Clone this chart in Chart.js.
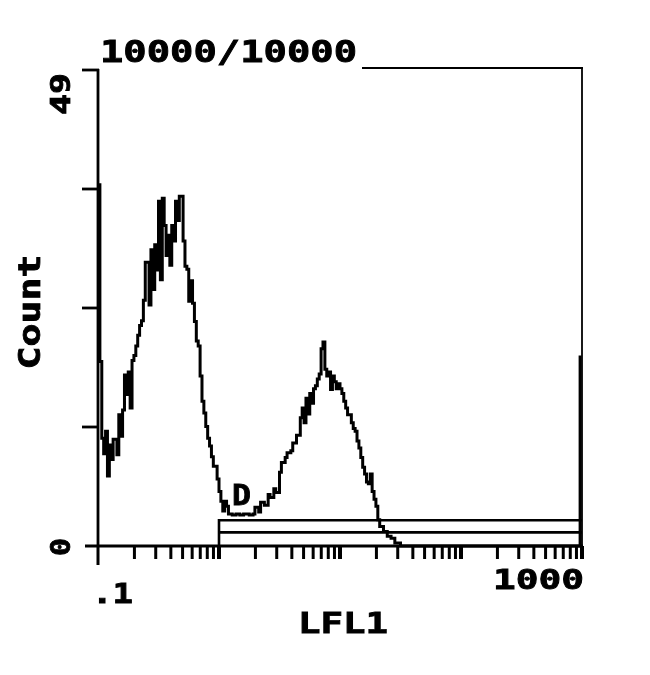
<!DOCTYPE html>
<html><head><meta charset="utf-8">
<script src="https://cdn.jsdelivr.net/npm/chart.js@4/dist/chart.umd.min.js"></script>
<style>html,body{margin:0;padding:0;background:#fff}#wrap{width:650px;height:675px;position:relative}</style>
</head><body><div id="wrap"><canvas id="c"></canvas></div>
<script>
// ---- data (histogram channels, 64 channels per decade, 0.1 .. 1000) ----
const channels = [0,1,2,3,4,5,6,7,8,10,11,12,13,14,15,16,17,18,19,20,21,22,23,24,25,27,28,29,30,31,32,33,34,35,36,37,38,39,40,41,42,43,45,46,47,48,49,50,51,52,53,54,55,56,57,58,59,60,61,63,64,65,66,67,68,69,71,73,75,77,80,82,83,85,86,88,90,91,93,94,96,97,99,100,102,103,105,107,108,109,110,111,112,113,114,115,116,117,118,119,120,121,122,123,124,125,126,127,128,129,130,131,132,134,135,136,137,138,139,140,141,142,143,144,145,146,147,148,149,151,153,155,157,160,254,255];
const counts = [37.2,19.0,11.1,9.5,11.8,7.2,10.4,8.9,11.0,9.4,13.5,11.3,14.0,17.6,15.6,17.9,14.2,19.1,19.6,20.6,21.7,22.7,23.2,25.3,29.2,24.8,30.5,26.4,31.0,28.4,35.5,27.4,35.8,33.0,29.9,32.0,28.9,33.0,31.4,35.5,33.5,36.0,31.4,28.8,28.5,25.2,27.3,25.0,23.1,21.1,20.6,17.5,14.9,13.7,12.3,11.1,10.3,9.2,8.2,6.9,5.6,4.6,3.6,4.6,4.1,3.3,3.2,3.3,3.2,3.3,3.2,3.3,4.0,3.5,4.5,4.2,5.3,5.0,5.9,5.5,7.6,8.6,9.1,9.6,9.8,10.6,11.4,13.2,14.2,12.7,15.2,13.6,15.7,14.7,16.2,16.5,17.2,17.7,20.3,21.0,18.2,17.5,17.9,16.1,17.5,16.9,16.2,16.7,16.2,15.7,14.9,14.2,13.5,12.7,12.1,11.8,10.8,10.1,9.1,8.1,7.4,6.6,6.4,7.4,5.6,4.8,4.1,2.7,2.0,1.5,1.0,0.8,0.3,0,0,19.6];
const channelsPerDecade = 64;
const lfl1Min = 0.1, lfl1Max = 1000;
const countMax = 49;
const titleText = '10000/10000';
const xTitle = 'LFL1';
const yTitle = 'Count';
const xTickLabels = ['.1', '1000'];
const yTickLabels = ['0', '49'];
const gateName = 'D';
const gateStart = 1, gateEnd = 1000;
const gateLevels = [2.65, 1.4];

const lfl1 = channels.map(c => lfl1Min * Math.pow(10, c / channelsPerDecade));
const histData = lfl1.map((v, i) => ({x: v, y: counts[i]}));

const FONT = '"DejaVu Sans Mono"';
function drawText(ctx, text, x, baseline, size, width, opts) {
  opts = opts || {};
  ctx.save();
  ctx.font = 'bold ' + size + 'px ' + FONT;
  ctx.fillStyle = '#000';
  ctx.strokeStyle = '#000';
  ctx.lineWidth = 0.8;
  ctx.textBaseline = 'alphabetic';
  const w = ctx.measureText(text).width;
  const sx = width / w;
  ctx.translate(x, baseline);
  if (opts.rotate) ctx.rotate(-Math.PI / 2);
  ctx.scale(sx, 1);
  ctx.textAlign = opts.align || 'left';
  ctx.fillText(text, 0, 0);
  ctx.strokeText(text, 0, 0);
  ctx.restore();
}
function seg(ctx, x1, y1, x2, y2) { ctx.beginPath(); ctx.moveTo(x1, y1); ctx.lineTo(x2, y2); ctx.stroke(); }

const framePlugin = {
  id: 'frame',
  beforeDatasetsDraw(chart) {
    const {ctx, chartArea: a, scales: {x, y}} = chart;
    ctx.save();
    ctx.strokeStyle = '#000';
    ctx.lineCap = 'butt';
    // left axis + hook + ticks
    ctx.lineWidth = 2.8;
    seg(ctx, a.left, a.top - 1, a.left, a.bottom + 1);
    seg(ctx, a.left - 16, a.top, a.left + 1, a.top);
    for (let k = 1; k < 4; k++) {
      const yy = y.getPixelForValue(countMax * k / 4);
      seg(ctx, a.left - 16, yy, a.left, yy);
    }
    // bottom axis
    seg(ctx, a.left - 13, a.bottom, a.right + 1, a.bottom);
    // log ticks
    for (let e = -1; e <= 2; e++) {
      for (let d = 1; d <= 9; d++) {
        const v = d * Math.pow(10, e);
        const px = x.getPixelForValue(v);
        const len = (e === -1 && d === 1) ? 19 : 13;
        ctx.lineWidth = (d === 1 && e > -1) ? 4 : 3;
        seg(ctx, px, a.bottom, px, a.bottom + len);
      }
    }
    ctx.lineWidth = 4;
    const pEnd = x.getPixelForValue(lfl1Max);
    seg(ctx, pEnd, a.bottom, pEnd, a.bottom + 13);
    // right & top frame
    ctx.lineWidth = 1.8;
    seg(ctx, a.right, a.top - 2, a.right, a.bottom);
    seg(ctx, 362, a.top - 2, a.right + 1, a.top - 2);
    ctx.restore();
  },
  afterDraw(chart) {
    const {ctx, chartArea: a, scales: {x, y}} = chart;
    drawText(ctx, titleText, 100, 62, 30, 257);
    drawText(ctx, xTickLabels[0], 92, 603, 26, 41);
    drawText(ctx, xTickLabels[1], 584, 589, 27, 91, {align: 'right'});
    drawText(ctx, xTitle, 298, 633, 28, 90);
    drawText(ctx, yTitle, 40, 312, 30, 115, {rotate: true, align: 'center'});
    drawText(ctx, yTickLabels[1], 70, 94, 27, 42, {rotate: true, align: 'center'});
    drawText(ctx, yTickLabels[0], 70, 547, 27, 18, {rotate: true, align: 'center'});
    const gx = x.getPixelForValue(gateStart);
    const gy = y.getPixelForValue(gateLevels[0]);
    drawText(ctx, gateName, gx + 13, gy - 15, 28, 19);
  }
};

new Chart(document.getElementById('c'), {
  type: 'line',
  data: {
    datasets: [
      {data: histData, stepped: true, borderColor: '#000', borderWidth: 3, pointRadius: 0, fill: false, clip: false, tension: 0},
      {data: [{x: gateStart, y: 0}, {x: gateStart, y: gateLevels[0]}, {x: gateEnd, y: gateLevels[0]}], borderColor: '#000', borderWidth: 2.6, pointRadius: 0, fill: false, clip: false},
      {data: [{x: gateStart, y: gateLevels[1]}, {x: gateEnd, y: gateLevels[1]}], borderColor: '#000', borderWidth: 2.6, pointRadius: 0, fill: false, clip: false}
    ]
  },
  options: {
    responsive: true,
    maintainAspectRatio: false,
    animation: false,
    events: [],
    layout: {padding: {left: 98, right: 68, top: 70, bottom: 129}},
    plugins: {legend: {display: false}, tooltip: {enabled: false}, title: {display: false}},
    scales: {
      x: {type: 'logarithmic', min: lfl1Min, max: lfl1Max, display: false},
      y: {type: 'linear', min: 0, max: countMax, display: false}
    }
  },
  plugins: [framePlugin]
});
</script>
</body></html>
